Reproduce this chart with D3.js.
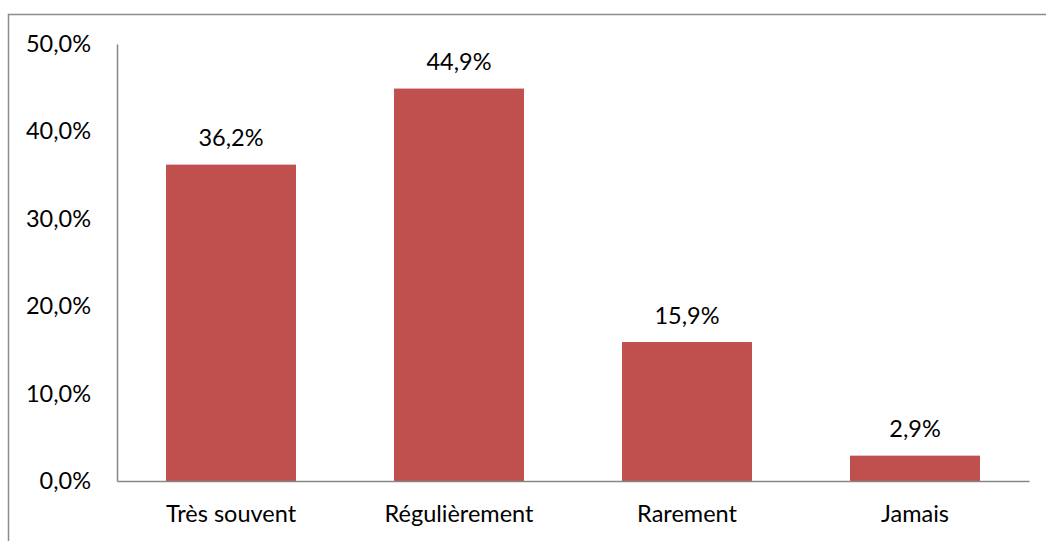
<!DOCTYPE html>
<html><head><meta charset="utf-8">
<script src="https://cdn.jsdelivr.net/npm/d3@7"></script>
<style>body{margin:0;background:#fff}svg{display:block}text{font-family:Lato,"Open Sans",sans-serif;fill:#000}</style>
</head><body><svg id="c" width="1046" height="541"></svg>
<script>
const categories = ["Très souvent", "Régulièrement", "Rarement", "Jamais"];
const values = [36.2, 44.9, 15.9, 2.9];
const tickValues = [0, 10, 20, 30, 40, 50];

const svg = d3.select("#c");
const fmt = v => d3.format(".1f")(v).replace(".", ",") + "%";
const fs = 23.5;

// outer border (top and left visible)
svg.append("path").attr("d", "M8.5,541 V14.5 H1046").attr("fill", "none").attr("stroke", "#8c8c8c").attr("stroke-width", 1.5);

const x = d3.scaleBand().domain(categories).range([117, 1029]).paddingInner(0.43).paddingOuter(0.215);
const y = d3.scaleLinear().domain([0, 50]).range([481, 44]);

svg.selectAll("rect.bar").data(values).join("rect")
  .attr("x", (d, i) => x(categories[i])).attr("width", x.bandwidth())
  .attr("y", d => y(d)).attr("height", d => y(0) - y(d)).attr("fill", "#C0504D");

svg.selectAll("text.val").data(values).join("text")
  .attr("x", (d, i) => x(categories[i]) + x.bandwidth() / 2).attr("y", d => y(d) - 18.5)
  .attr("text-anchor", "middle").attr("font-size", fs).text(d => fmt(d));

const yAxis = svg.append("g").attr("transform", "translate(117,0)")
  .call(d3.axisLeft(y).tickValues(tickValues).tickSize(0).tickPadding(26).tickFormat(fmt));
yAxis.select(".domain").attr("stroke", "#868686").attr("stroke-width", 1.5);
yAxis.selectAll("text").attr("font-size", fs).attr("font-family", "Lato").attr("fill", "#000");

const xAxis = svg.append("g").attr("transform", "translate(0,481)")
  .call(d3.axisBottom(x).tickSize(0).tickPadding(24).tickSizeOuter(0));
xAxis.select(".domain").attr("stroke", "#868686").attr("stroke-width", 1.5);
xAxis.selectAll("text").attr("font-size", fs).attr("font-family", "Lato").attr("fill", "#000");
</script></body></html>
